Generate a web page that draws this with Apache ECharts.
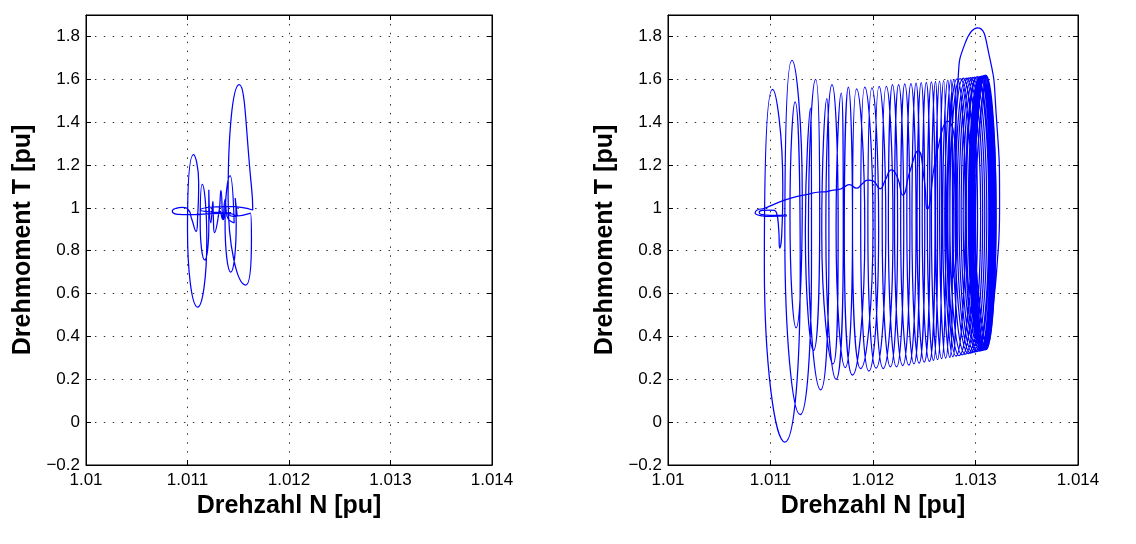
<!DOCTYPE html>
<html><head><meta charset="utf-8">
<script src="https://cdn.jsdelivr.net/npm/echarts@6/dist/echarts.min.js"></script>
<style>html,body{margin:0;padding:0;background:#fff}#c{width:1136px;height:544px}</style>
</head><body><div id="c"></div>
<script>
const xMin = 1.01, xMax = 1.014, xStep = 0.001;
const yMin = -0.2, yMax = 1.9, yStep = 0.2;
const xTickLabels = ['1.01', '1.011', '1.012', '1.013', '1.014'];
const yTickLabels = ['\u22120.2', '0', '0.2', '0.4', '0.6', '0.8', '1', '1.2', '1.4', '1.6', '1.8'];
const xName = 'Drehzahl N [pu]';
const yName = 'Drehmoment T [pu]';

// left panel: speed / torque trajectory
const leftTrace = [
  [1.01143,0.978],[1.01120,0.972],[1.01100,0.968],[1.01090,0.970],[1.01085,0.985],[1.01088,0.997],
  [1.01095,1.002],[1.01101,0.990],[1.01104,0.950],[1.011085,0.890],[1.01110,0.960],[1.01111,1.120],
  [1.01106,1.249],[1.01100,0.900],[1.01110,0.537],[1.01119,0.850],[1.011145,1.110],[1.011125,0.930],
  [1.01117,0.757],[1.01121,0.920],[1.01121,1.085],[1.01123,0.930],[1.01125,1.030],[1.011255,0.950],
  [1.011266,0.884],[1.01131,0.980],[1.01133,1.082],[1.01135,0.950],[1.01137,1.040],[1.01139,0.960],
  [1.01146,0.930],[1.01142,1.150],[1.01137,0.930],[1.011426,0.700],[1.01148,0.930],[1.01147,1.046],
  [1.01149,0.960],[1.01140,0.975],[1.01125,0.980],[1.011125,0.990],[1.01125,1.004],[1.01140,1.007],
  [1.011643,0.990],[1.01163,1.100],[1.01151,1.575],[1.01140,1.050],[1.011574,0.640],[1.01163,0.850],
  [1.01162,0.975],[1.01145,0.960],[1.01138,0.975],[1.01135,0.945],[1.01132,0.985],[1.01130,0.950]
];

// right panel: decaying oscillation converging to the limit cycle
const rightTraceDecay = [
  [1.01116,0.966],[1.01100,0.965],[1.01091,0.969],[1.01089,0.979],[1.01092,0.988],[1.01100,0.990],
  [1.01106,0.975],[1.01108,0.900],[1.01109,0.812],[1.01111,0.880],[1.01112,1.10],
  [1.01102,1.553],[1.01094,0.73],[1.01114,-0.093],[1.01129,0.70],
  [1.01124,1.495],[1.01119,0.97],[1.01125,0.44],[1.01131,1.06],
  [1.01121,1.688],[1.01114,0.86],[1.01129,0.035],[1.01140,0.75],
  [1.01139,1.466],[1.01134,0.90],[1.01142,0.334],[1.01148,0.97],
  [1.01144,1.600],[1.01137,0.88],[1.01149,0.151],[1.01157,0.83],
  [1.01155,1.510],[1.01150,0.89],[1.01161,0.272],[1.01166,0.92],
  [1.01160,1.575],[1.01154,0.89],[1.01164,0.200],[1.01171,0.87],
  [1.01169,1.536],[1.01164,0.90],[1.01173,0.255],[1.01180,0.91],
  [1.01176,1.564],[1.01172,0.89],[1.01180,0.220],[1.01192,0.89],
  [1.01184,1.555],[1.01180,0.90],[1.01188,0.250],[1.01200,0.91],
  [1.01192,1.564],[1.01188,0.90],[1.01196,0.238],[1.012055,0.90],
  [1.01199,1.560],[1.01195,0.91],[1.01203,0.252],[1.012125,0.91],
  [1.01206,1.567],[1.01202,0.91],[1.01210,0.250],[1.012195,0.91],
  [1.01213,1.567],[1.01209,0.91],[1.01217,0.258],[1.01224,0.92],
  [1.01219,1.575],[1.01215,0.92],[1.01223,0.258],[1.01230,0.92],
  [1.01225,1.575],[1.01221,0.92],[1.01229,0.264],[1.01236,0.92],
  [1.01231,1.579],[1.01227,0.92],[1.01235,0.266],[1.01242,0.93],
  [1.01237,1.580],[1.01233,0.93],[1.01240,0.272],[1.012455,0.93],
  [1.01242,1.582],[1.01238,0.93],[1.01245,0.275],[1.012505,0.93],
  [1.01247,1.584],[1.01243,0.93],[1.01250,0.280],[1.012555,0.94],
  [1.01252,1.586],[1.01248,0.94],[1.01255,0.284],[1.012605,0.94],
  [1.01257,1.588],[1.01253,0.94],[1.01259,0.288],[1.01263,0.94],
  [1.01261,1.590],[1.01257,0.94],[1.01263,0.292],[1.01267,0.94],
  [1.01265,1.592],[1.01261,0.94],[1.01267,0.296],[1.01271,0.95],
  [1.01269,1.594],[1.01265,0.95],[1.01271,0.299],[1.01275,0.95],
  [1.01273,1.596],[1.01268,0.95],[1.01275,0.302],[1.012775,0.95],
  [1.01276,1.598],[1.01270,0.95],[1.01278,0.305],[1.01281,0.95],
  [1.01279,1.600],[1.01272,0.95],[1.01281,0.308],[1.01290,0.96],
  [1.01282,1.602],[1.01273,0.96],[1.01284,0.311],[1.01296,0.96],
  [1.01285,1.603],[1.01275,0.96],[1.01287,0.314],[1.01299,0.96],
  [1.01288,1.605],[1.01278,0.96],[1.01290,0.317],[1.01302,0.96],
  [1.01291,1.606],[1.01280,0.96],[1.01293,0.320],[1.01305,0.97],
  [1.01293,1.607],[1.01282,0.97],[1.01295,0.322],[1.01307,0.97],
  [1.01295,1.608],[1.01284,0.97],[1.01297,0.325],[1.01309,0.97],
  [1.01297,1.609],[1.01286,0.97],[1.01299,0.327],[1.01311,0.97],
  [1.01299,1.610],[1.01288,0.97],[1.01301,0.329],[1.01313,0.97],
  [1.01301,1.611],[1.01290,0.97],[1.01302,0.330],[1.01314,0.97],
  [1.01302,1.612],[1.01291,0.97],[1.01304,0.332],[1.01315,0.97],
  [1.01304,1.613],[1.01293,0.97],[1.01305,0.333],[1.01316,0.97],
  [1.01305,1.614],[1.01294,0.97],[1.01306,0.334],[1.01317,0.97],
  [1.01306,1.615],[1.01295,0.97],[1.01307,0.335],[1.01318,0.97],
  [1.01307,1.616],[1.01296,0.97],[1.01308,0.336],[1.01319,0.97],
  [1.01308,1.617],[1.01297,0.97],[1.01309,0.337],[1.01320,0.97],
  [1.01309,1.618],[1.01298,0.97],[1.01310,0.338],[1.01320,0.97],
  [1.01310,1.619],[1.01299,0.97],[1.01310,0.338]
];

// right panel: growing oscillation (centre curve and outer ellipse)
const rightTraceGrow = [
  [1.01116,0.962],[1.01100,0.960],[1.01090,0.964],[1.01085,0.977],[1.01087,0.990],[1.01094,0.998],
  [1.01105,1.020],[1.01120,1.045],[1.01135,1.062],[1.01148,1.074],[1.01155,1.076],[1.01160,1.082],
  [1.01167,1.086],[1.01172,1.098],[1.01177,1.108],[1.01184,1.092],[1.01189,1.110],[1.01195,1.130],
  [1.01200,1.126],[1.01207,1.089],[1.01212,1.130],[1.01218,1.177],[1.01224,1.140],[1.01229,1.060],
  [1.01236,1.170],[1.01244,1.266],[1.01250,1.130],[1.01253,0.995],[1.01262,1.250],[1.01273,1.405],
  [1.01281,1.200],[1.01282,0.850],[1.01278,0.672],[1.01278,0.850],[1.01280,1.200],[1.01283,1.600],
  [1.01290,1.770],[1.01302,1.840],[1.01313,1.720],[1.01320,1.450],[1.013235,1.000],[1.01321,0.730],
  [1.01316,0.500],[1.01311,0.345],[1.01299,0.970],[1.01309,1.617],[1.01320,0.970],[1.01310,0.338],
  [1.01300,0.970],[1.01310,1.619]
];

const font = "'Liberation Sans', Arial, Helvetica, sans-serif";
function near(v, start, step, n) {
  const i = Math.round((v - start) / step);
  return (i >= 0 && i < n && Math.abs(v - (start + i * step)) < 1e-7) ? i : -1;
}
function fmtX(v) { const i = near(v, xMin, xStep, xTickLabels.length); return i < 0 ? '' : xTickLabels[i]; }
function fmtY(v) { const i = near(v, yMin, yStep, yTickLabels.length); return i < 0 ? '' : yTickLabels[i]; }

const dotted = { color: '#333', width: 1, type: [1.5, 7.4] };
const blackLine = { color: '#000', width: 1 };

function xAxes(g) {
  return [
    { gridIndex: g, type: 'value', position: 'bottom', min: xMin, max: xMax, interval: xStep,
      axisLine: { show: true, onZero: false, lineStyle: blackLine },
      axisTick: { show: true, inside: true, length: 5, lineStyle: blackLine },
      axisLabel: { show: true, formatter: fmtX, color: '#000', fontSize: 17, fontFamily: font, margin: 7 },
      splitLine: { show: true, lineStyle: dotted },
      name: xName, nameLocation: 'middle', nameGap: 29,
      nameTextStyle: { color: '#000', fontSize: 25, fontWeight: 'bold', fontFamily: font } },
    { gridIndex: g, type: 'value', position: 'top', min: xMin, max: xMax, interval: xStep,
      axisLine: { show: true, onZero: false, lineStyle: blackLine },
      axisTick: { show: true, inside: true, length: 5, lineStyle: blackLine },
      axisLabel: { show: false }, splitLine: { show: false } }
  ];
}
function yAxes(g) {
  return [
    { gridIndex: g, type: 'value', position: 'left', min: yMin, max: yMax, interval: yStep,
      axisLine: { show: true, onZero: false, lineStyle: blackLine },
      axisTick: { show: true, inside: true, length: 5, lineStyle: blackLine },
      axisLabel: { show: true, formatter: fmtY, color: '#000', fontSize: 17, fontFamily: font, margin: 6, showMaxLabel: false },
      splitLine: { show: true, lineStyle: dotted },
      name: yName, nameLocation: 'middle', nameGap: 50, nameRotate: 90,
      nameTextStyle: { color: '#000', fontSize: 25, fontWeight: 'bold', fontFamily: font } },
    { gridIndex: g, type: 'value', position: 'right', min: yMin, max: yMax, interval: yStep,
      axisLine: { show: true, onZero: false, lineStyle: blackLine },
      axisTick: { show: true, inside: true, length: 5, lineStyle: blackLine },
      axisLabel: { show: false }, splitLine: { show: false } }
  ];
}
function trace(data, axisIdx) {
  return { type: 'line', xAxisIndex: axisIdx, yAxisIndex: axisIdx, data: data,
    showSymbol: false, symbol: 'none', smooth: 0.55, silent: true, z: 3,
    lineStyle: { color: '#0000ff', width: 1.25 } };
}

const chart = echarts.init(document.getElementById('c'), null, { renderer: 'canvas' });
chart.setOption({
  backgroundColor: '#fff',
  animation: false,
  grid: [
    { left: 86, top: 15, width: 406, height: 450, show: true, borderColor: '#000', borderWidth: 1, backgroundColor: '#fff' },
    { left: 668, top: 15, width: 410, height: 450, show: true, borderColor: '#000', borderWidth: 1, backgroundColor: '#fff' }
  ],
  xAxis: xAxes(0).concat(xAxes(1)),
  yAxis: yAxes(0).concat(yAxes(1)),
  series: [
    trace(leftTrace, 0),
    trace(rightTraceDecay, 2),
    trace(rightTraceGrow, 2)
  ]
});
</script>
</body></html>
